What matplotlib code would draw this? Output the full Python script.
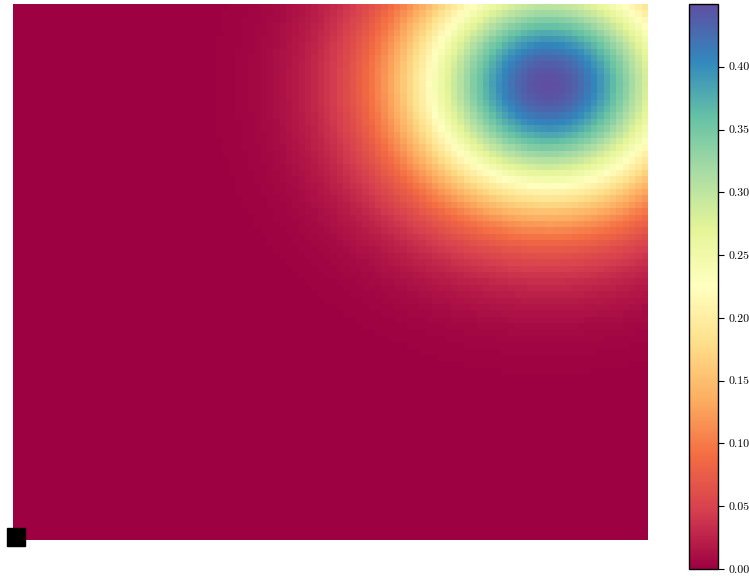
import numpy as np
import matplotlib
matplotlib.use("Agg")
import matplotlib.pyplot as plt

plt.rcParams['font.family'] = 'serif'
plt.rcParams['font.serif'] = ['cmr10', 'DejaVu Serif']
plt.rcParams['axes.formatter.use_mathtext'] = True

# grid size (cells) and blob
nx, ny = 100, 84
peak = 0.45
centre_x, centre_y = 83.8, 70.9   # cell index of the maximum
spread_x, spread_y = 15.8, 13.6   # in cells
source = (0, 0)                    # black square
cbar_ticks = [0.00, 0.05, 0.10, 0.15, 0.20, 0.25, 0.30, 0.35, 0.40]

xx, yy = np.meshgrid(np.arange(nx), np.arange(ny))
field = peak * np.exp(-0.5 * (((xx - centre_x) / spread_x) ** 2 + ((yy - centre_y) / spread_y) ** 2))

fig = plt.figure(figsize=(7.49, 5.77), dpi=100)
ax = fig.add_axes([13/749, 37/577, 635/749, 536/577])
im = ax.imshow(field, cmap='Spectral', origin='lower', aspect='auto',
               vmin=0, vmax=field.max(), interpolation='nearest')
ax.plot(source[0], source[1], 's', color='black', markersize=13, clip_on=False)
ax.set_xlim(-0.5, nx - 0.5)
ax.set_ylim(-0.5, ny - 0.5)
ax.axis('off')

cax = fig.add_axes([689/749, 8/577, 29/749, 565/577])
cb = fig.colorbar(im, cax=cax, ticks=cbar_ticks)
cb.ax.set_yticklabels(['%.2f' % t for t in cbar_ticks])
cb.ax.tick_params(labelsize=8.5, length=4, width=0.8)
cb.outline.set_linewidth(1.0)

fig.savefig('out.png', dpi=100)
